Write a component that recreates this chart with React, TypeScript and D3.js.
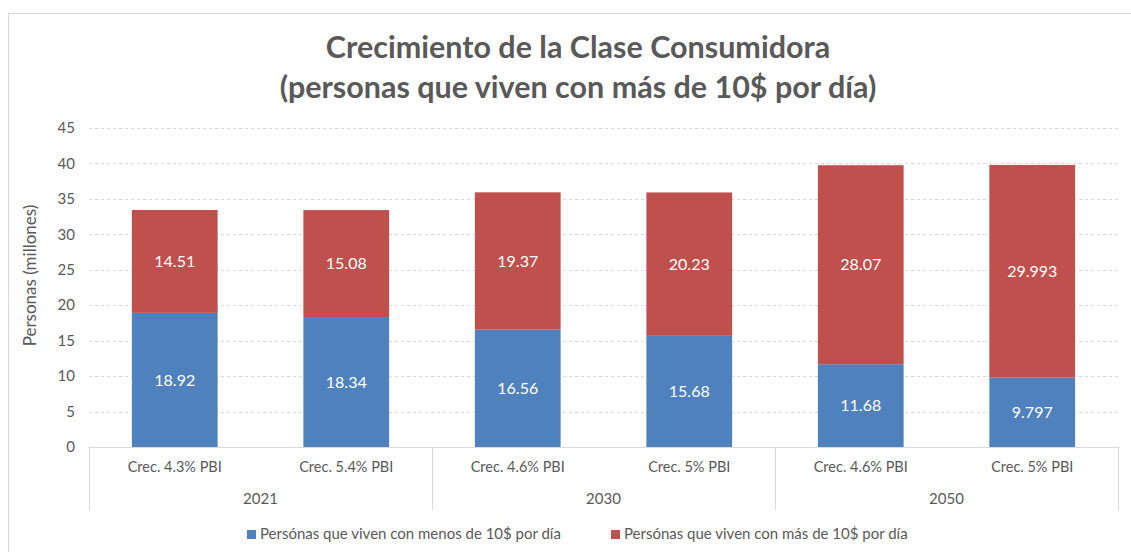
import { useEffect, useRef } from "react"
import * as d3 from "d3"

const years = ["2021", "2030", "2050"]
const scenarios = ["Crec. 4.3% PBI", "Crec. 5.4% PBI", "Crec. 4.6% PBI", "Crec. 5% PBI", "Crec. 4.6% PBI", "Crec. 5% PBI"]
const scenarioYear = ["2021", "2021", "2030", "2030", "2050", "2050"]
const menos = [18.92, 18.34, 16.56, 15.68, 11.68, 9.797]
const mas = [14.51, 15.08, 19.37, 20.23, 28.07, 29.993]
const seriesNames = ["Persónas que viven con menos de 10$ por día", "Persónas que viven con más de 10$ por día"]
const yTicks = [0, 5, 10, 15, 20, 25, 30, 35, 40, 45]

const W = 1131
const H = 552
const FONT = "Lato, sans-serif"
const TEXT = "#595959"
const COLORS = ["#4F81BD", "#C0504D"]

const App = () => {
  const svgRef = useRef<SVGSVGElement | null>(null)

  useEffect(() => {
    if (!svgRef.current) return
    const svg = d3.select(svgRef.current)
    svg.selectAll("*").remove()

    const margin = { top: 128, left: 89, right: 13, bottom: 105 }
    const innerW = W - margin.left - margin.right
    const innerH = H - margin.top - margin.bottom

    // outer chart border
    svg.append("rect")
      .attr("x", 8.5).attr("y", 13.5)
      .attr("width", W + 20).attr("height", H + 20)
      .attr("fill", "#fff").attr("stroke", "#d9d9d9")

    // title
    const title = svg.append("text")
      .attr("text-anchor", "middle")
      .attr("font-family", FONT)
      .attr("font-weight", "bold")
      .attr("font-size", 30.5)
      .attr("fill", TEXT)
    title.append("tspan").attr("x", 578).attr("y", 58).text("Crecimiento de la Clase Consumidora")
    title.append("tspan").attr("x", 578).attr("y", 98).text("(personas que viven con más de 10$ por día)")

    const idx = scenarios.map((_, i) => i)
    const x = d3.scaleBand<number>().domain(idx).range([0, innerW]).paddingInner(0.5).paddingOuter(0.25)
    const y = d3.scaleLinear().domain([0, 45]).range([innerH, 0])

    const g = svg.append("g").attr("transform", `translate(${margin.left},${margin.top})`)

    // gridlines
    g.selectAll(".grid")
      .data(yTicks.filter((t) => t > 0))
      .join("line")
      .attr("x1", 0).attr("x2", innerW + 3)
      .attr("y1", (d) => Math.round(y(d)) + 0.5).attr("y2", (d) => Math.round(y(d)) + 0.5)
      .attr("stroke", "#d9d9d9")
      .attr("stroke-dasharray", "3,3")

    // y tick labels
    g.selectAll(".ytick")
      .data(yTicks)
      .join("text")
      .attr("x", -14)
      .attr("y", (d) => y(d))
      .attr("dy", "0.35em")
      .attr("text-anchor", "end")
      .attr("font-family", FONT)
      .attr("font-size", 15)
      .attr("fill", TEXT)
      .text((d) => d)

    // y axis title
    svg.append("text")
      .attr("transform", `translate(36,${margin.top + innerH / 2 - 12}) rotate(-90)`)
      .attr("text-anchor", "middle")
      .attr("font-family", FONT)
      .attr("font-size", 17)
      .attr("fill", TEXT)
      .text("Personas (millones)")

    // stacked bars
    const data = idx.map((i) => ({ i, menos: menos[i], mas: mas[i] }))
    const stack = d3.stack<{ i: number; menos: number; mas: number }>().keys(["menos", "mas"])
    const layers = stack(data)

    layers.forEach((layer, li) => {
      g.selectAll(`.bar-${li}`)
        .data(layer)
        .join("rect")
        .attr("x", (d) => x(d.data.i)!)
        .attr("width", x.bandwidth())
        .attr("y", (d) => y(d[1]))
        .attr("height", (d) => y(d[0]) - y(d[1]))
        .attr("fill", COLORS[li])

      g.selectAll(`.lbl-${li}`)
        .data(layer)
        .join("text")
        .attr("x", (d) => x(d.data.i)! + x.bandwidth() / 2)
        .attr("y", (d) => (y(d[0]) + y(d[1])) / 2)
        .attr("dy", "0.35em")
        .attr("text-anchor", "middle")
        .attr("font-family", FONT)
        .attr("font-size", 16)
        .attr("fill", "#fff")
        .text((d) => (li === 0 ? menos[d.data.i] : mas[d.data.i]))
    })

    // category axis
    const step = innerW / scenarios.length
    g.append("line")
      .attr("x1", 0).attr("x2", innerW)
      .attr("y1", innerH + 0.5).attr("y2", innerH + 0.5)
      .attr("stroke", "#d9d9d9")

    g.selectAll(".cat")
      .data(idx)
      .join("text")
      .attr("x", (i) => i * step + step / 2)
      .attr("y", innerH + 20)
      .attr("dy", "0.35em")
      .attr("text-anchor", "middle")
      .attr("font-family", FONT)
      .attr("font-size", 14.5)
      .attr("fill", TEXT)
      .text((i) => scenarios[i])

    const sep = d3.range(years.length + 1)
    g.selectAll(".sep")
      .data(sep)
      .join("line")
      .attr("x1", (k) => Math.round(k * 2 * step) + 0.5)
      .attr("x2", (k) => Math.round(k * 2 * step) + 0.5)
      .attr("y1", innerH).attr("y2", innerH + 63)
      .attr("stroke", "#d9d9d9")

    g.selectAll(".year")
      .data(years)
      .join("text")
      .attr("x", (yr) => {
        const members = idx.filter((i) => scenarioYear[i] === yr)
        return ((members[0] + members[members.length - 1] + 1) / 2) * step
      })
      .attr("y", innerH + 52)
      .attr("dy", "0.35em")
      .attr("text-anchor", "middle")
      .attr("font-family", FONT)
      .attr("font-size", 15)
      .attr("fill", TEXT)
      .text((d) => d)

    // legend
    const legendX = [247, 611]
    seriesNames.forEach((name, k) => {
      const lg = svg.append("g").attr("transform", `translate(${legendX[k]},534)`)
      lg.append("rect").attr("x", 0).attr("y", -4).attr("width", 9).attr("height", 9).attr("fill", COLORS[k])
      lg.append("text")
        .attr("x", 13)
        .attr("y", 0)
        .attr("dy", "0.35em")
        .attr("font-family", FONT)
        .attr("font-size", 15)
        .attr("fill", TEXT)
        .text(name)
    })
  }, [])

  return (
    <div style={{ position: "absolute", left: 0, top: 0 }}>
      <svg ref={svgRef} width={W} height={H} style={{ display: "block" }} />
    </div>
  )
}

export default App
